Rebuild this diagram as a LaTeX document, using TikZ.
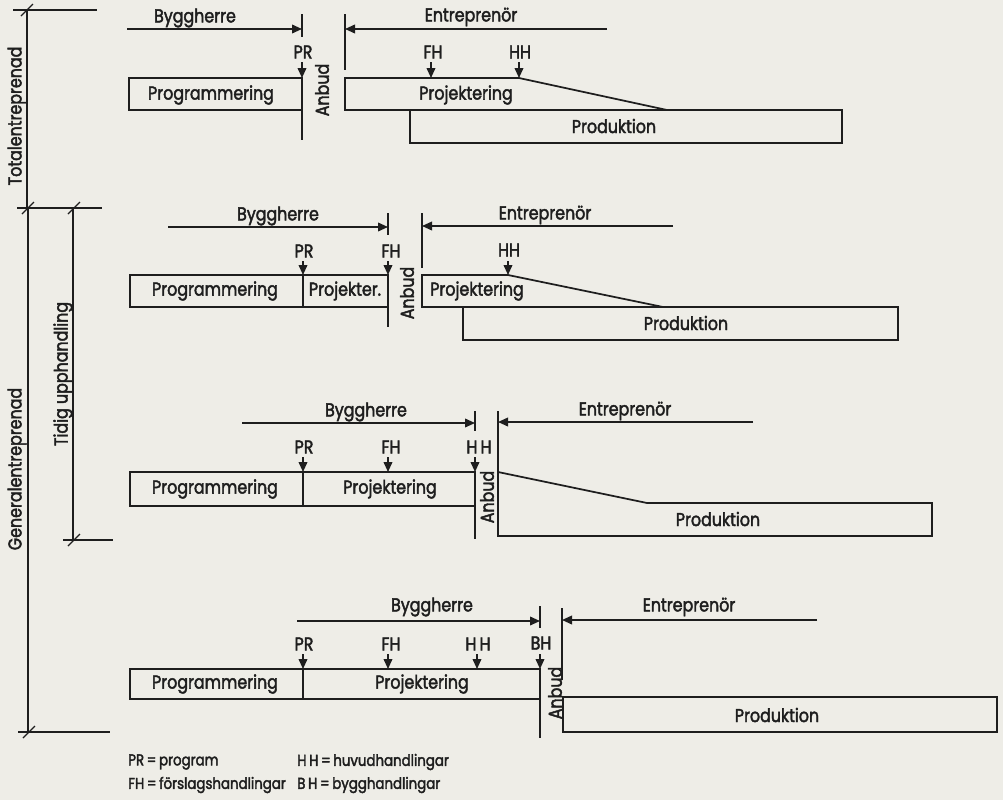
\documentclass[tikz,border=0pt]{standalone}
\usepackage{fontspec}
\setmainfont{Poppins}[FakeStretch=0.85,FakeBold=2.2]
\usetikzlibrary{arrows.meta}
\definecolor{paper}{HTML}{EEEDE7}
\definecolor{ink}{HTML}{1E1E1E}
\tikzset{
  ln/.style={draw=ink,line width=1.2pt},
  bx/.style={draw=ink,line width=1.3pt},
  arr/.style={ln,-{Triangle[length=7.5pt,width=6.5pt]}},
  lbl/.style={font=\fontsize{14}{16}\selectfont,text=ink,inner sep=0pt},
  sm/.style={font=\fontsize{11.8}{14}\selectfont,text=ink,inner sep=0pt},
  tick/.style={draw=ink,line width=1pt}
}
\begin{document}
\begin{tikzpicture}[x=0.75pt,y=-0.75pt]
\fill[paper] (0,0) rectangle (1003,800);
\useasboundingbox (0,0) rectangle (1003,800);

% ---------- left brackets ----------
\coordinate (t0a) at (13,10); \coordinate (t0b) at (97,10);
\coordinate (t1a) at (17,208); \coordinate (t1b) at (102,208);
\coordinate (t2a) at (63,540); \coordinate (t2b) at (113,540);
\coordinate (t3a) at (18,732); \coordinate (t3b) at (110,732);
\draw[ln] (t0a) -- (t0b);
\draw[ln] (t1a) -- (t1b);
\draw[ln] (t2a) -- (t2b);
\draw[ln] (t3a) -- (t3b);
\coordinate (vt1) at (27,10); \coordinate (vt2) at (27,208);
\coordinate (vg1) at (28,208); \coordinate (vg2) at (28,732);
\coordinate (vu1) at (73,208); \coordinate (vu2) at (73,540);
\draw[ln] (vt1) -- (vt2);
\draw[ln] (vg1) -- (vg2);
\draw[ln] (vu1) -- (vu2);
\foreach \p in {(27,10),(28,208),(74,208),(74,540),(29,732)}
  \draw[tick] \p ++(-6,6) -- ++(12,-12);
\node[lbl,rotate=90] (tot) at (17,116) {Totalentreprenad};
\node[lbl,rotate=90] (gen) at (17,469) {Generalentreprenad};
\node[lbl,rotate=90] (tid) at (63,374) {Tidig upphandling};

% ---------- diagram 1 ----------
\node[lbl] (by1) at (195,18) {Byggherre};
\coordinate (by1s) at (127,29); \coordinate (by1e) at (302,29);
\coordinate (v1a) at (302,14); \coordinate (v1m) at (302,37);
\coordinate (v1c) at (302,78); \coordinate (v1b) at (302,140);
\draw[ln] (v1a) -- (v1m);
\draw[ln] (v1c) -- (v1b);
\draw[arr] (by1s) -- (by1e);
\node[lbl] (pr1) at (303,52) {PR};
\draw[arr] (302,62) -- (v1c);
\draw[bx] (129,78) rectangle (302,110);
\node[lbl] (prog1) at (211,95) {Programmering};
\node[lbl,rotate=90] (an1) at (322,90) {Anbud};
\node[lbl] (en1) at (471,17) {Entreprenör};
\coordinate (e1a) at (345,14); \coordinate (e1b) at (345,70);
\draw[ln] (e1a) -- (e1b);
\coordinate (en1s) at (607,29); \coordinate (en1e) at (345,29);
\draw[arr] (en1s) -- (en1e);
\node[lbl] (fh1) at (433,52) {FH};
\draw[arr] (431,62) -- (431,78);
\node[lbl] (hh1) at (520,52) {HH};
\draw[arr] (519,62) -- (519,78);
\draw[bx] (345,78) -- (519,78) -- (667,110) -- (345,110) -- cycle;
\node[lbl] (proj1) at (466,95) {Projektering};
\draw[bx] (410,110) rectangle (842,143);
\node[lbl] (prod1) at (614,126) {Produktion};

% ---------- diagram 2 ----------
\node[lbl] (by2) at (278,216) {Byggherre};
\coordinate (by2s) at (168,227); \coordinate (by2e) at (388,227);
\coordinate (v2a) at (388,213); \coordinate (v2m) at (388,235);
\coordinate (v2c) at (388,275); \coordinate (v2b) at (388,327);
\draw[ln] (v2a) -- (v2m);
\draw[ln] (v2c) -- (v2b);
\draw[arr] (by2s) -- (by2e);
\node[lbl] (pr2) at (304,251) {PR};
\draw[arr] (303,261) -- (303,275);
\node[lbl] (fh2) at (391,251) {FH};
\draw[arr] (388,261) -- (v2c);
\draw[bx] (130,275) rectangle (303,307);
\draw[bx] (303,275) rectangle (388,307);
\node[lbl] (prog2) at (215,291) {Programmering};
\node[lbl] (pk2) at (345,291) {Projekter.};
\node[lbl,rotate=90] (an2) at (407,293) {Anbud};
\node[lbl] (en2) at (545,215) {Entreprenör};
\coordinate (e2a) at (422,213); \coordinate (e2b) at (422,268);
\draw[ln] (e2a) -- (e2b);
\coordinate (en2s) at (673,226); \coordinate (en2e) at (422,226);
\draw[arr] (en2s) -- (en2e);
\node[lbl] (hh2) at (509,250) {HH};
\draw[arr] (508,261) -- (508,275);
\draw[bx] (422,275) -- (508,275) -- (663,307) -- (422,307) -- cycle;
\node[lbl] (proj2) at (477,291) {Projektering};
\draw[bx] (463,307) rectangle (898,340);
\node[lbl] (prod2) at (686,323) {Produktion};

% ---------- diagram 3 ----------
\node[lbl] (by3) at (366,412) {Byggherre};
\coordinate (by3s) at (242,423); \coordinate (by3e) at (475,423);
\coordinate (v3a) at (475,411); \coordinate (v3m) at (475,431);
\coordinate (v3c) at (475,472); \coordinate (v3b) at (475,539);
\draw[ln] (v3a) -- (v3m);
\draw[ln] (v3c) -- (v3b);
\draw[arr] (by3s) -- (by3e);
\node[lbl] (pr3) at (304,447) {PR};
\draw[arr] (303,457) -- (303,472);
\node[lbl] (fh3) at (391,447) {FH};
\draw[arr] (388,457) -- (388,472);
\node[lbl] (hh3) at (479,447) {H\,H};
\draw[arr] (475,457) -- (v3c);
\draw[bx] (130,472) rectangle (303,506);
\draw[bx] (303,472) rectangle (475,506);
\node[lbl] (prog3) at (215,489) {Programmering};
\node[lbl] (proj3) at (390,489) {Projektering};
\node[lbl,rotate=90] (an3) at (487,497) {Anbud};
\node[lbl] (en3) at (625,411) {Entreprenör};
\coordinate (e3a) at (498,411); \coordinate (e3b) at (498,472);
\draw[ln] (e3a) -- (e3b);
\coordinate (en3s) at (753,422); \coordinate (en3e) at (498,422);
\draw[arr] (en3s) -- (en3e);
\draw[bx] (498,472) -- (647,503) -- (932,503) -- (932,536) -- (498,536) -- cycle;
\node[lbl] (prod3) at (718,519) {Produktion};

% ---------- diagram 4 ----------
\node[lbl] (by4) at (432,607) {Byggherre};
\coordinate (by4s) at (297,621); \coordinate (by4e) at (540,621);
\coordinate (v4a) at (540,606); \coordinate (v4m) at (540,628);
\coordinate (v4c) at (540,669); \coordinate (v4b) at (540,738);
\draw[ln] (v4a) -- (v4m);
\draw[ln] (v4c) -- (v4b);
\draw[arr] (by4s) -- (by4e);
\node[lbl] (pr4) at (304,644) {PR};
\draw[arr] (303,654) -- (303,669);
\node[lbl] (fh4) at (391,644) {FH};
\draw[arr] (388,654) -- (388,669);
\node[lbl] (hh4) at (478,644) {H\,H};
\draw[arr] (477,654) -- (477,669);
\node[lbl] (bh4) at (541,643) {BH};
\draw[arr] (540,654) -- (v4c);
\draw[bx] (130,669) rectangle (303,699);
\draw[bx] (303,669) rectangle (540,699);
\node[lbl] (prog4) at (215,684) {Programmering};
\node[lbl] (proj4) at (422,684) {Projektering};
\node[lbl,rotate=90] (an4) at (555,693) {Anbud};
\node[lbl] (en4) at (689,607) {Entreprenör};
\coordinate (e4a) at (562,608); \coordinate (e4b) at (562,680);
\draw[ln] (e4a) -- (e4b);
\coordinate (en4s) at (817,620); \coordinate (en4e) at (562,620);
\draw[arr] (en4s) -- (en4e);
\draw[bx] (563,697) rectangle (997,732);
\node[lbl] (prod4) at (777,715) {Produktion};

% ---------- legend ----------
\node[sm,anchor=west] (lg1) at (128,762) {PR\,=\,program};
\node[sm,anchor=west] (lg2) at (128,785) {FH\,=\,förslagshandlingar};
\node[sm,anchor=west] (lg3) at (297,762) {H\,H\,=\,huvudhandlingar};
\node[sm,anchor=west] (lg4) at (297,785) {B\,H\,=\,bygghandlingar};
\end{tikzpicture}
\end{document}
